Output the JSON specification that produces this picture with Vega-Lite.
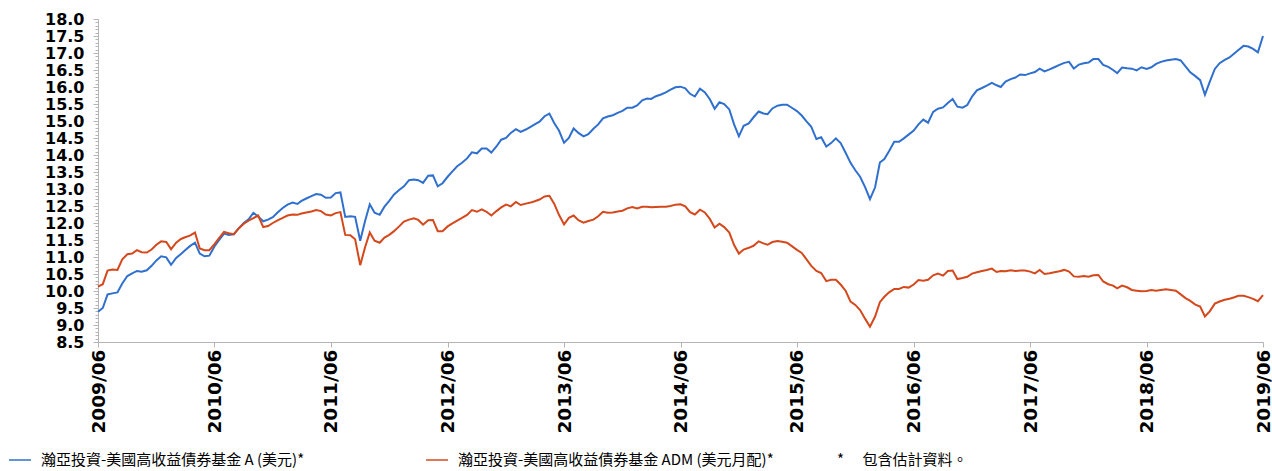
{
  "$schema": "https://vega.github.io/schema/vega-lite/v6.json",
  "width": 1165,
  "height": 323,
  "autosize": "none",
  "padding": {"left": 98, "top": 19, "right": 9, "bottom": 129},
  "background": "white",
  "config": {"view": {"stroke": null}, "font": "DejaVu Sans"},
  "datasets": {
    "A": [
      {"d":"2009-06-01","v":9.39},{"d":"2009-06-16","v":9.50},{"d":"2009-07-01","v":9.90},{"d":"2009-07-16","v":9.93},{"d":"2009-08-01","v":9.96},{"d":"2009-08-16","v":10.22},{"d":"2009-09-01","v":10.44},{"d":"2009-09-16","v":10.52},{"d":"2009-10-01","v":10.59},{"d":"2009-10-16","v":10.57},{"d":"2009-11-01","v":10.61},{"d":"2009-11-16","v":10.74},{"d":"2009-12-01","v":10.90},{"d":"2009-12-16","v":11.02},
      {"d":"2010-01-01","v":10.99},{"d":"2010-01-16","v":10.77},{"d":"2010-02-01","v":10.97},{"d":"2010-02-16","v":11.09},{"d":"2010-03-01","v":11.20},{"d":"2010-03-16","v":11.32},{"d":"2010-04-01","v":11.42},{"d":"2010-04-16","v":11.10},{"d":"2010-05-01","v":11.02},{"d":"2010-05-16","v":11.04},{"d":"2010-06-01","v":11.31},{"d":"2010-06-16","v":11.50},{"d":"2010-07-01","v":11.69},{"d":"2010-07-16","v":11.65},{"d":"2010-08-01","v":11.67},{"d":"2010-08-16","v":11.84},{"d":"2010-09-01","v":12.00},{"d":"2010-09-16","v":12.11},{"d":"2010-10-01","v":12.30},{"d":"2010-10-16","v":12.19},{"d":"2010-11-01","v":12.05},{"d":"2010-11-16","v":12.10},{"d":"2010-12-01","v":12.17},{"d":"2010-12-16","v":12.31},
      {"d":"2011-01-01","v":12.44},{"d":"2011-01-16","v":12.54},{"d":"2011-02-01","v":12.60},{"d":"2011-02-16","v":12.56},{"d":"2011-03-01","v":12.65},{"d":"2011-03-16","v":12.72},{"d":"2011-04-01","v":12.79},{"d":"2011-04-16","v":12.85},{"d":"2011-05-01","v":12.83},{"d":"2011-05-16","v":12.74},{"d":"2011-06-01","v":12.75},{"d":"2011-06-16","v":12.88},{"d":"2011-07-01","v":12.90},{"d":"2011-07-16","v":12.18},{"d":"2011-08-01","v":12.20},{"d":"2011-08-16","v":12.18},{"d":"2011-09-01","v":11.48},{"d":"2011-09-16","v":12.05},{"d":"2011-10-01","v":12.55},{"d":"2011-10-16","v":12.30},{"d":"2011-11-01","v":12.24},{"d":"2011-11-16","v":12.48},{"d":"2011-12-01","v":12.65},{"d":"2011-12-16","v":12.84},
      {"d":"2012-01-01","v":12.97},{"d":"2012-01-16","v":13.08},{"d":"2012-02-01","v":13.26},{"d":"2012-02-16","v":13.28},{"d":"2012-03-01","v":13.26},{"d":"2012-03-16","v":13.18},{"d":"2012-04-01","v":13.39},{"d":"2012-04-16","v":13.40},{"d":"2012-05-01","v":13.08},{"d":"2012-05-16","v":13.17},{"d":"2012-06-01","v":13.36},{"d":"2012-06-16","v":13.52},{"d":"2012-07-01","v":13.67},{"d":"2012-07-16","v":13.77},{"d":"2012-08-01","v":13.90},{"d":"2012-08-16","v":14.08},{"d":"2012-09-01","v":14.05},{"d":"2012-09-16","v":14.19},{"d":"2012-10-01","v":14.19},{"d":"2012-10-16","v":14.07},{"d":"2012-11-01","v":14.25},{"d":"2012-11-16","v":14.45},{"d":"2012-12-01","v":14.50},{"d":"2012-12-16","v":14.65},
      {"d":"2013-01-01","v":14.76},{"d":"2013-01-16","v":14.68},{"d":"2013-02-01","v":14.75},{"d":"2013-02-16","v":14.83},{"d":"2013-03-01","v":14.90},{"d":"2013-03-16","v":14.98},{"d":"2013-04-01","v":15.14},{"d":"2013-04-16","v":15.22},{"d":"2013-05-01","v":14.94},{"d":"2013-05-16","v":14.72},{"d":"2013-06-01","v":14.36},{"d":"2013-06-16","v":14.50},{"d":"2013-07-01","v":14.78},{"d":"2013-07-16","v":14.65},{"d":"2013-08-01","v":14.55},{"d":"2013-08-16","v":14.61},{"d":"2013-09-01","v":14.77},{"d":"2013-09-16","v":14.90},{"d":"2013-10-01","v":15.08},{"d":"2013-10-16","v":15.13},{"d":"2013-11-01","v":15.17},{"d":"2013-11-16","v":15.24},{"d":"2013-12-01","v":15.30},{"d":"2013-12-16","v":15.39},
      {"d":"2014-01-01","v":15.39},{"d":"2014-01-16","v":15.46},{"d":"2014-02-01","v":15.61},{"d":"2014-02-16","v":15.66},{"d":"2014-03-01","v":15.65},{"d":"2014-03-16","v":15.73},{"d":"2014-04-01","v":15.78},{"d":"2014-04-16","v":15.84},{"d":"2014-05-01","v":15.92},{"d":"2014-05-16","v":15.99},{"d":"2014-06-01","v":16.01},{"d":"2014-06-16","v":15.96},{"d":"2014-07-01","v":15.80},{"d":"2014-07-16","v":15.72},{"d":"2014-08-01","v":15.95},{"d":"2014-08-16","v":15.85},{"d":"2014-09-01","v":15.64},{"d":"2014-09-16","v":15.36},{"d":"2014-10-01","v":15.55},{"d":"2014-10-16","v":15.50},{"d":"2014-11-01","v":15.34},{"d":"2014-11-16","v":14.90},{"d":"2014-12-01","v":14.55},{"d":"2014-12-16","v":14.86},
      {"d":"2015-01-01","v":14.93},{"d":"2015-01-16","v":15.11},{"d":"2015-02-01","v":15.28},{"d":"2015-02-16","v":15.22},{"d":"2015-03-01","v":15.20},{"d":"2015-03-16","v":15.37},{"d":"2015-04-01","v":15.45},{"d":"2015-04-16","v":15.48},{"d":"2015-05-01","v":15.48},{"d":"2015-05-16","v":15.39},{"d":"2015-06-01","v":15.29},{"d":"2015-06-16","v":15.16},{"d":"2015-07-01","v":14.99},{"d":"2015-07-16","v":14.83},{"d":"2015-08-01","v":14.47},{"d":"2015-08-16","v":14.52},{"d":"2015-09-01","v":14.25},{"d":"2015-09-16","v":14.35},{"d":"2015-10-01","v":14.49},{"d":"2015-10-16","v":14.35},{"d":"2015-11-01","v":14.06},{"d":"2015-11-16","v":13.77},{"d":"2015-12-01","v":13.55},{"d":"2015-12-16","v":13.36},
      {"d":"2016-01-01","v":13.05},{"d":"2016-01-16","v":12.70},{"d":"2016-02-01","v":13.05},{"d":"2016-02-16","v":13.78},{"d":"2016-03-01","v":13.88},{"d":"2016-03-16","v":14.12},{"d":"2016-04-01","v":14.39},{"d":"2016-04-16","v":14.39},{"d":"2016-05-01","v":14.49},{"d":"2016-05-16","v":14.60},{"d":"2016-06-01","v":14.72},{"d":"2016-06-16","v":14.90},{"d":"2016-07-01","v":15.04},{"d":"2016-07-16","v":14.95},{"d":"2016-08-01","v":15.27},{"d":"2016-08-16","v":15.36},{"d":"2016-09-01","v":15.40},{"d":"2016-09-16","v":15.53},{"d":"2016-10-01","v":15.65},{"d":"2016-10-16","v":15.42},{"d":"2016-11-01","v":15.39},{"d":"2016-11-16","v":15.47},{"d":"2016-12-01","v":15.72},{"d":"2016-12-16","v":15.90},
      {"d":"2017-01-01","v":15.97},{"d":"2017-01-16","v":16.04},{"d":"2017-02-01","v":16.12},{"d":"2017-02-16","v":16.05},{"d":"2017-03-01","v":16.00},{"d":"2017-03-16","v":16.16},{"d":"2017-04-01","v":16.23},{"d":"2017-04-16","v":16.28},{"d":"2017-05-01","v":16.37},{"d":"2017-05-16","v":16.35},{"d":"2017-06-01","v":16.40},{"d":"2017-06-16","v":16.44},{"d":"2017-07-01","v":16.54},{"d":"2017-07-16","v":16.46},{"d":"2017-08-01","v":16.52},{"d":"2017-08-16","v":16.58},{"d":"2017-09-01","v":16.65},{"d":"2017-09-16","v":16.71},{"d":"2017-10-01","v":16.74},{"d":"2017-10-16","v":16.54},{"d":"2017-11-01","v":16.66},{"d":"2017-11-16","v":16.70},{"d":"2017-12-01","v":16.72},{"d":"2017-12-16","v":16.82},
      {"d":"2018-01-01","v":16.82},{"d":"2018-01-16","v":16.65},{"d":"2018-02-01","v":16.59},{"d":"2018-02-16","v":16.50},{"d":"2018-03-01","v":16.41},{"d":"2018-03-16","v":16.57},{"d":"2018-04-01","v":16.55},{"d":"2018-04-16","v":16.54},{"d":"2018-05-01","v":16.49},{"d":"2018-05-16","v":16.58},{"d":"2018-06-01","v":16.53},{"d":"2018-06-16","v":16.58},{"d":"2018-07-01","v":16.68},{"d":"2018-07-16","v":16.74},{"d":"2018-08-01","v":16.78},{"d":"2018-08-16","v":16.80},{"d":"2018-09-01","v":16.82},{"d":"2018-09-16","v":16.78},{"d":"2018-10-01","v":16.61},{"d":"2018-10-16","v":16.43},{"d":"2018-11-01","v":16.32},{"d":"2018-11-16","v":16.20},{"d":"2018-12-01","v":15.77},{"d":"2018-12-16","v":16.15},
      {"d":"2019-01-01","v":16.53},{"d":"2019-01-16","v":16.70},{"d":"2019-02-01","v":16.80},{"d":"2019-02-16","v":16.87},{"d":"2019-03-01","v":16.97},{"d":"2019-03-16","v":17.09},{"d":"2019-04-01","v":17.21},{"d":"2019-04-16","v":17.19},{"d":"2019-05-01","v":17.12},{"d":"2019-05-16","v":17.02},{"d":"2019-06-01","v":17.50}
    ],
    "ADM": [
      {"d":"2009-06-01","v":10.13},{"d":"2009-06-16","v":10.20},{"d":"2009-07-01","v":10.60},{"d":"2009-07-16","v":10.63},{"d":"2009-08-01","v":10.62},{"d":"2009-08-16","v":10.93},{"d":"2009-09-01","v":11.08},{"d":"2009-09-16","v":11.10},{"d":"2009-10-01","v":11.20},{"d":"2009-10-16","v":11.14},{"d":"2009-11-01","v":11.13},{"d":"2009-11-16","v":11.22},{"d":"2009-12-01","v":11.36},{"d":"2009-12-16","v":11.46},
      {"d":"2010-01-01","v":11.44},{"d":"2010-01-16","v":11.23},{"d":"2010-02-01","v":11.42},{"d":"2010-02-16","v":11.53},{"d":"2010-03-01","v":11.58},{"d":"2010-03-16","v":11.63},{"d":"2010-04-01","v":11.72},{"d":"2010-04-16","v":11.25},{"d":"2010-05-01","v":11.20},{"d":"2010-05-16","v":11.20},{"d":"2010-06-01","v":11.38},{"d":"2010-06-16","v":11.56},{"d":"2010-07-01","v":11.74},{"d":"2010-07-16","v":11.70},{"d":"2010-08-01","v":11.67},{"d":"2010-08-16","v":11.84},{"d":"2010-09-01","v":11.98},{"d":"2010-09-16","v":12.07},{"d":"2010-10-01","v":12.14},{"d":"2010-10-16","v":12.22},{"d":"2010-11-01","v":11.88},{"d":"2010-11-16","v":11.91},{"d":"2010-12-01","v":12.00},{"d":"2010-12-16","v":12.08},
      {"d":"2011-01-01","v":12.15},{"d":"2011-01-16","v":12.22},{"d":"2011-02-01","v":12.25},{"d":"2011-02-16","v":12.24},{"d":"2011-03-01","v":12.28},{"d":"2011-03-16","v":12.31},{"d":"2011-04-01","v":12.34},{"d":"2011-04-16","v":12.38},{"d":"2011-05-01","v":12.35},{"d":"2011-05-16","v":12.25},{"d":"2011-06-01","v":12.22},{"d":"2011-06-16","v":12.29},{"d":"2011-07-01","v":12.32},{"d":"2011-07-16","v":11.65},{"d":"2011-08-01","v":11.64},{"d":"2011-08-16","v":11.52},{"d":"2011-09-01","v":10.76},{"d":"2011-09-16","v":11.28},{"d":"2011-10-01","v":11.72},{"d":"2011-10-16","v":11.48},{"d":"2011-11-01","v":11.42},{"d":"2011-11-16","v":11.57},{"d":"2011-12-01","v":11.65},{"d":"2011-12-16","v":11.76},
      {"d":"2012-01-01","v":11.90},{"d":"2012-01-16","v":12.04},{"d":"2012-02-01","v":12.10},{"d":"2012-02-16","v":12.14},{"d":"2012-03-01","v":12.09},{"d":"2012-03-16","v":11.95},{"d":"2012-04-01","v":12.08},{"d":"2012-04-16","v":12.09},{"d":"2012-05-01","v":11.76},{"d":"2012-05-16","v":11.76},{"d":"2012-06-01","v":11.90},{"d":"2012-06-16","v":11.99},{"d":"2012-07-01","v":12.07},{"d":"2012-07-16","v":12.15},{"d":"2012-08-01","v":12.24},{"d":"2012-08-16","v":12.38},{"d":"2012-09-01","v":12.33},{"d":"2012-09-16","v":12.40},{"d":"2012-10-01","v":12.33},{"d":"2012-10-16","v":12.22},{"d":"2012-11-01","v":12.35},{"d":"2012-11-16","v":12.46},{"d":"2012-12-01","v":12.54},{"d":"2012-12-16","v":12.49},
      {"d":"2013-01-01","v":12.62},{"d":"2013-01-16","v":12.53},{"d":"2013-02-01","v":12.57},{"d":"2013-02-16","v":12.60},{"d":"2013-03-01","v":12.64},{"d":"2013-03-16","v":12.69},{"d":"2013-04-01","v":12.78},{"d":"2013-04-16","v":12.80},{"d":"2013-05-01","v":12.57},{"d":"2013-05-16","v":12.24},{"d":"2013-06-01","v":11.96},{"d":"2013-06-16","v":12.15},{"d":"2013-07-01","v":12.22},{"d":"2013-07-16","v":12.08},{"d":"2013-08-01","v":12.01},{"d":"2013-08-16","v":12.06},{"d":"2013-09-01","v":12.10},{"d":"2013-09-16","v":12.20},{"d":"2013-10-01","v":12.33},{"d":"2013-10-16","v":12.30},{"d":"2013-11-01","v":12.31},{"d":"2013-11-16","v":12.34},{"d":"2013-12-01","v":12.36},{"d":"2013-12-16","v":12.43},
      {"d":"2014-01-01","v":12.47},{"d":"2014-01-16","v":12.43},{"d":"2014-02-01","v":12.48},{"d":"2014-02-16","v":12.48},{"d":"2014-03-01","v":12.46},{"d":"2014-03-16","v":12.47},{"d":"2014-04-01","v":12.48},{"d":"2014-04-16","v":12.48},{"d":"2014-05-01","v":12.50},{"d":"2014-05-16","v":12.54},{"d":"2014-06-01","v":12.55},{"d":"2014-06-16","v":12.49},{"d":"2014-07-01","v":12.32},{"d":"2014-07-16","v":12.25},{"d":"2014-08-01","v":12.39},{"d":"2014-08-16","v":12.31},{"d":"2014-09-01","v":12.12},{"d":"2014-09-16","v":11.87},{"d":"2014-10-01","v":11.98},{"d":"2014-10-16","v":11.88},{"d":"2014-11-01","v":11.72},{"d":"2014-11-16","v":11.35},{"d":"2014-12-01","v":11.10},{"d":"2014-12-16","v":11.22},
      {"d":"2015-01-01","v":11.27},{"d":"2015-01-16","v":11.33},{"d":"2015-02-01","v":11.46},{"d":"2015-02-16","v":11.40},{"d":"2015-03-01","v":11.36},{"d":"2015-03-16","v":11.44},{"d":"2015-04-01","v":11.47},{"d":"2015-04-16","v":11.45},{"d":"2015-05-01","v":11.42},{"d":"2015-05-16","v":11.32},{"d":"2015-06-01","v":11.21},{"d":"2015-06-16","v":11.12},{"d":"2015-07-01","v":10.93},{"d":"2015-07-16","v":10.74},{"d":"2015-08-01","v":10.59},{"d":"2015-08-16","v":10.53},{"d":"2015-09-01","v":10.29},{"d":"2015-09-16","v":10.33},{"d":"2015-10-01","v":10.33},{"d":"2015-10-16","v":10.19},{"d":"2015-11-01","v":10.00},{"d":"2015-11-16","v":9.69},{"d":"2015-12-01","v":9.59},{"d":"2015-12-16","v":9.44},
      {"d":"2016-01-01","v":9.18},{"d":"2016-01-16","v":8.95},{"d":"2016-02-01","v":9.25},{"d":"2016-02-16","v":9.67},{"d":"2016-03-01","v":9.83},{"d":"2016-03-16","v":9.96},{"d":"2016-04-01","v":10.06},{"d":"2016-04-16","v":10.06},{"d":"2016-05-01","v":10.12},{"d":"2016-05-16","v":10.10},{"d":"2016-06-01","v":10.19},{"d":"2016-06-16","v":10.32},{"d":"2016-07-01","v":10.30},{"d":"2016-07-16","v":10.33},{"d":"2016-08-01","v":10.46},{"d":"2016-08-16","v":10.51},{"d":"2016-09-01","v":10.45},{"d":"2016-09-16","v":10.59},{"d":"2016-10-01","v":10.60},{"d":"2016-10-16","v":10.35},{"d":"2016-11-01","v":10.38},{"d":"2016-11-16","v":10.42},{"d":"2016-12-01","v":10.51},{"d":"2016-12-16","v":10.55},
      {"d":"2017-01-01","v":10.59},{"d":"2017-01-16","v":10.62},{"d":"2017-02-01","v":10.66},{"d":"2017-02-16","v":10.56},{"d":"2017-03-01","v":10.59},{"d":"2017-03-16","v":10.58},{"d":"2017-04-01","v":10.61},{"d":"2017-04-16","v":10.59},{"d":"2017-05-01","v":10.60},{"d":"2017-05-16","v":10.60},{"d":"2017-06-01","v":10.57},{"d":"2017-06-16","v":10.52},{"d":"2017-07-01","v":10.62},{"d":"2017-07-16","v":10.50},{"d":"2017-08-01","v":10.52},{"d":"2017-08-16","v":10.55},{"d":"2017-09-01","v":10.58},{"d":"2017-09-16","v":10.62},{"d":"2017-10-01","v":10.57},{"d":"2017-10-16","v":10.43},{"d":"2017-11-01","v":10.42},{"d":"2017-11-16","v":10.44},{"d":"2017-12-01","v":10.42},{"d":"2017-12-16","v":10.46},
      {"d":"2018-01-01","v":10.47},{"d":"2018-01-16","v":10.28},{"d":"2018-02-01","v":10.20},{"d":"2018-02-16","v":10.16},{"d":"2018-03-01","v":10.08},{"d":"2018-03-16","v":10.16},{"d":"2018-04-01","v":10.11},{"d":"2018-04-16","v":10.03},{"d":"2018-05-01","v":10.01},{"d":"2018-05-16","v":9.99},{"d":"2018-06-01","v":10.00},{"d":"2018-06-16","v":10.03},{"d":"2018-07-01","v":10.01},{"d":"2018-07-16","v":10.03},{"d":"2018-08-01","v":10.05},{"d":"2018-08-16","v":10.03},{"d":"2018-09-01","v":10.01},{"d":"2018-09-16","v":9.90},{"d":"2018-10-01","v":9.79},{"d":"2018-10-16","v":9.71},{"d":"2018-11-01","v":9.60},{"d":"2018-11-16","v":9.54},{"d":"2018-12-01","v":9.25},{"d":"2018-12-16","v":9.40},
      {"d":"2019-01-01","v":9.63},{"d":"2019-01-16","v":9.69},{"d":"2019-02-01","v":9.74},{"d":"2019-02-16","v":9.77},{"d":"2019-03-01","v":9.81},{"d":"2019-03-16","v":9.86},{"d":"2019-04-01","v":9.86},{"d":"2019-04-16","v":9.82},{"d":"2019-05-01","v":9.77},{"d":"2019-05-16","v":9.70},{"d":"2019-06-01","v":9.88}
    ]
  },
  "encoding": {
    "x": {
      "field": "d",
      "type": "temporal",
      "scale": {"type": "utc", "domain": [{"year": 2009, "month": 6, "date": 1, "utc": true}, {"year": 2019, "month": 6, "date": 1, "utc": true}]},
      "axis": {
        "title": null,
        "values": [
          {"year": 2009, "month": 6, "date": 1, "utc": true},
          {"year": 2010, "month": 6, "date": 1, "utc": true},
          {"year": 2011, "month": 6, "date": 1, "utc": true},
          {"year": 2012, "month": 6, "date": 1, "utc": true},
          {"year": 2013, "month": 6, "date": 1, "utc": true},
          {"year": 2014, "month": 6, "date": 1, "utc": true},
          {"year": 2015, "month": 6, "date": 1, "utc": true},
          {"year": 2016, "month": 6, "date": 1, "utc": true},
          {"year": 2017, "month": 6, "date": 1, "utc": true},
          {"year": 2018, "month": 6, "date": 1, "utc": true},
          {"year": 2019, "month": 6, "date": 1, "utc": true}
        ],
        "format": "%Y/%m",
        "labelAngle": -90,
        "labelFont": "DejaVu Sans",
        "labelFontSize": 18.5,
        "labelFontWeight": "bold",
        "labelColor": "#000000",
        "labelPadding": 2,
        "labelOverlap": false,
        "labelFlush": false,
        "grid": false,
        "domainColor": "#b4b4b4",
        "tickColor": "#b4b4b4",
        "tickSize": 5
      }
    },
    "y": {
      "field": "v",
      "type": "quantitative",
      "scale": {"domain": [8.5, 18], "nice": false, "zero": false},
      "axis": {
        "title": null,
        "values": [8.5,8.6,8.7,8.8,8.9,9.0,9.1,9.2,9.3,9.4,9.5,9.6,9.7,9.8,9.9,10.0,10.1,10.2,10.3,10.4,10.5,10.6,10.7,10.8,10.9,11.0,11.1,11.2,11.3,11.4,11.5,11.6,11.7,11.8,11.9,12.0,12.1,12.2,12.3,12.4,12.5,12.6,12.7,12.8,12.9,13.0,13.1,13.2,13.3,13.4,13.5,13.6,13.7,13.8,13.9,14.0,14.1,14.2,14.3,14.4,14.5,14.6,14.7,14.8,14.9,15.0,15.1,15.2,15.3,15.4,15.5,15.6,15.7,15.8,15.9,16.0,16.1,16.2,16.3,16.4,16.5,16.6,16.7,16.8,16.9,17.0,17.1,17.2,17.3,17.4,17.5,17.6,17.7,17.8,17.9,18.0],
        "labelExpr": "abs(datum.value*2 - round(datum.value*2)) < 0.01 ? format(datum.value, '.1f') : ''",
        "labelFont": "DejaVu Sans",
        "labelFontSize": 16,
        "labelFontWeight": "bold",
        "labelColor": "#000000",
        "labelPadding": 9,
        "labelOverlap": false,
        "labelFlush": false,
        "grid": false,
        "domainColor": "#b4b4b4",
        "tickColor": "#b4b4b4",
        "tickSize": {"condition": {"test": "abs(datum.value*2 - round(datum.value*2)) < 0.01", "value": 5}, "value": 3}
      }
    }
  },
  "layer": [
    {
      "data": {"name": "A"},
      "mark": {"type": "line", "strokeWidth": 2},
      "encoding": {
        "color": {
          "datum": "A",
          "scale": {"domain": ["A", "ADM"], "range": ["#2f6fce", "#d4481b"]},
          "legend": {
            "title": null,
            "orient": "none",
            "direction": "horizontal",
            "legendX": -90,
            "legendY": 429,
            "symbolType": "stroke",
            "symbolSize": 480,
            "symbolStrokeWidth": 1.5,
            "labelFont": "Noto Sans CJK TC",
            "labelFontSize": 15,
            "labelColor": "#000000",
            "labelLimit": 900,
            "labelOffset": 9,
            "columnPadding": 118,
            "labelExpr": "datum.label == 'A' ? '瀚亞投資-美國高收益債券基金 A (美元)*' : '瀚亞投資-美國高收益債券基金 ADM (美元月配)*\u3000\u3000\u3000\u3000\u00a0*\u3000\u00a0包含估計資料。'"
          }
        }
      }
    },
    {
      "data": {"name": "ADM"},
      "mark": {"type": "line", "strokeWidth": 2},
      "encoding": {"color": {"datum": "ADM"}}
    }
  ]
}
